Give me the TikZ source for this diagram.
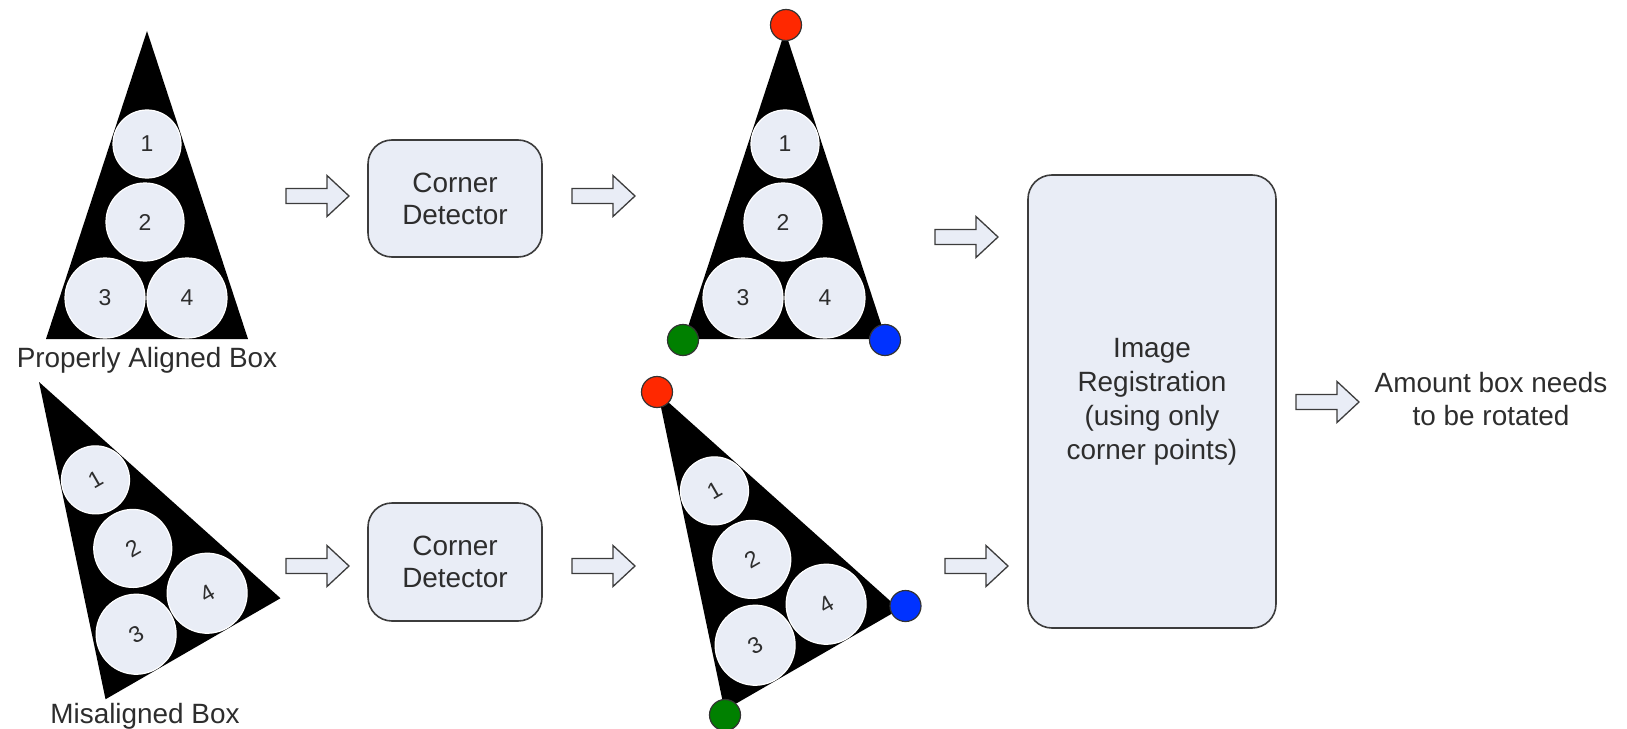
\documentclass[tikz,border=0pt]{standalone}
\usepackage{fontspec}
\setmainfont{Liberation Sans}
\definecolor{lav}{RGB}{233,237,246}
\definecolor{edge}{RGB}{60,60,60}
\definecolor{txt}{RGB}{45,45,45}
\definecolor{dotred}{RGB}{255,40,0}
\definecolor{dotgreen}{RGB}{0,128,0}
\definecolor{dotblue}{RGB}{0,50,255}
\tikzset{
  procbox/.style={draw=edge, line width=1.6bp, fill=lav, rounded corners=24bp,
    text=txt, font=\fontsize{28}{32}\selectfont, align=center},
  ball/.style={circle, fill=lav, draw=white, line width=1.2bp, inner sep=0pt,
    text=txt, font=\fontsize{23}{23}\selectfont},
  cornerdot/.style={circle, draw=black!80, line width=1.2bp, minimum size=31bp, inner sep=0pt},
  lbl/.style={text=txt, font=\fontsize{28}{34}\selectfont, align=center, inner sep=0pt},
  blockarr/.style={draw=edge, fill=lav, line width=1.3bp, line join=miter},
  rack/.pic={
    \fill[black] (0,0) -- (-101,308) -- (101,308) -- cycle;
    \node[ball, minimum size=68bp] (-b1) at (0,113) {1};
    \node[ball, minimum size=78bp] (-b2) at (-2,191) {2};
    \node[ball, minimum size=80bp] (-b3) at (-42,267) {3};
    \node[ball, minimum size=80bp] (-b4) at (40,267) {4};
  },
  blockarrow/.pic={
    \draw[blockarr] (0,-7.5) -- (41,-7.5) -- (41,-20.5) -- (63,0) -- (41,20.5)
      -- (41,7.5) -- (0,7.5) -- cycle;
  }
}
\begin{document}
\begin{tikzpicture}[x=1bp, y=-1bp]
\useasboundingbox (0,0) rectangle (1627,729);
% triangles
\pic (t1) at (147,31) {rack};
\begin{scope}[shift={(39,382)}, rotate=30, transform shape]
  \pic (t2) at (0,0) {rack};
\end{scope}
\pic (t3) at (785,31) {rack};
\begin{scope}[shift={(658,393)}, rotate=30, transform shape]
  \pic (t4) at (0,0) {rack};
\end{scope}
% corner dots
\node[cornerdot, fill=dotred] (r3) at (786,25) {};
\node[cornerdot, fill=dotgreen] (g3) at (683,340) {};
\node[cornerdot, fill=dotblue] (b3) at (885,340) {};
\node[cornerdot, fill=dotred] (r4) at (657,392) {};
\node[cornerdot, fill=dotgreen] (g4) at (725,715) {};
\node[cornerdot, fill=dotblue] (b4) at (905.5,606) {};
% labels
\node[lbl, anchor=base] (lab1) at (147,367) {Properly Aligned Box};
\node[lbl, anchor=base] (lab2) at (145,723) {Misaligned Box};
% boxes
\node[procbox, minimum width=174bp, minimum height=117bp] (cd1) at (455,198.5) {Corner\\Detector};
\node[procbox, minimum width=174bp, minimum height=118bp] (cd2) at (455,562) {Corner\\Detector};
\node[procbox, minimum width=248bp, minimum height=453bp, font=\fontsize{28}{34}\selectfont] (reg) at (1152,401.5) {Image\\Registration\\(using only\\corner points)};
\node[lbl] (out) at (1491,399) {Amount box needs\\to be rotated};
% block arrows
\pic (a1) at (286,196) {blockarrow};
\pic (a2) at (572,196) {blockarrow};
\pic (a3) at (935,237) {blockarrow};
\pic (a4) at (286,566) {blockarrow};
\pic (a5) at (572,566) {blockarrow};
\pic (a6) at (945,566) {blockarrow};
\pic (a7) at (1296,402) {blockarrow};
\end{tikzpicture}
\end{document}
